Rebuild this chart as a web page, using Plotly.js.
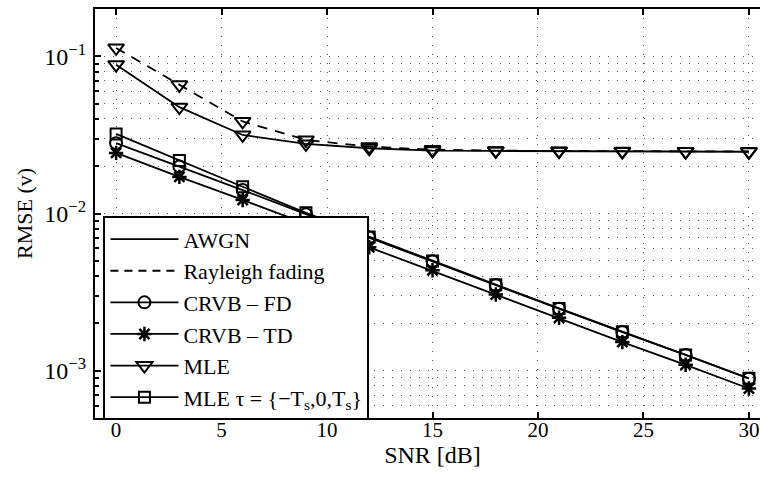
<!DOCTYPE html>
<html>
<head>
<meta charset="utf-8">
<script src="https://cdn.plot.ly/plotly-3.0.1.min.js"></script>
<style>
html,body{margin:0;padding:0;overflow:hidden;background:#fff;}
#chart{width:780px;height:478px;}
</style>
</head>
<body>
<div id="chart"></div>
<script>
// SNR in dB
const snr = [0, 3, 6, 9, 12, 15, 18, 21, 24, 27, 30];
// RMSE values
const mleAwgn      = [0.0885, 0.0475, 0.0316, 0.0277, 0.0260, 0.0251, 0.0250, 0.0249, 0.0248, 0.0248, 0.0247];
const mleRayleigh  = [0.113, 0.0659, 0.0385, 0.0294, 0.0266, 0.0255, 0.0251, 0.0250, 0.0249, 0.0248, 0.0248];
const crvbFd       = [0.0280, 0.0199, 0.0141, 0.00990, 0.00703, 0.00496, 0.00350, 0.00248, 0.00176, 0.00126, 0.000890];
const crvbTd       = [0.0243, 0.0171, 0.0122, 0.00862, 0.00610, 0.00435, 0.00305, 0.00217, 0.00152, 0.00109, 0.000770];
const mleTau       = [0.0321, 0.0217, 0.0148, 0.0101, 0.00710, 0.00498, 0.00352, 0.00249, 0.00177, 0.00126, 0.000895];

const xTicks = [0, 5, 10, 15, 20, 25, 30];
const yTicks = [0.001, 0.01, 0.1];
const yTickText = ['10<sup>\u22123</sup>', '10<sup>\u22122</sup>', '10<sup>\u22121</sup>'];
const yMinor = [0.0006, 0.0007, 0.0008, 0.0009,
  0.002, 0.003, 0.004, 0.005, 0.006, 0.007, 0.008, 0.009,
  0.02, 0.03, 0.04, 0.05, 0.06, 0.07, 0.08, 0.09, 0.2];

const legendNames = ['AWGN', 'Rayleigh fading', 'CRVB \u2013 FD', 'CRVB \u2013 TD', 'MLE',
  'MLE \u03c4 = {\u2212T<sub>s</sub>,0,T<sub>s</sub>}'];

const K = '#000';
const LW = 1.8;

const traces = [
  {x: [null], y: [null], mode: 'lines', name: legendNames[0], line: {color: K, width: LW}},
  {x: [null], y: [null], mode: 'lines', name: legendNames[1], line: {color: K, width: LW, dash: '8px,6px'}},
  {x: snr, y: crvbFd, mode: 'lines+markers', name: legendNames[2],
   line: {color: K, width: LW}, marker: {symbol: 'circle-open', size: 12, color: K, line: {width: 2, color: K}}},
  {x: snr, y: crvbTd, mode: 'lines+markers', name: legendNames[3],
   line: {color: K, width: LW}, marker: {symbol: 'asterisk-open', size: 12, color: K, line: {width: 2.5, color: K}}},
  {x: snr, y: mleAwgn, mode: 'lines+markers', name: legendNames[4],
   line: {color: K, width: LW}, marker: {symbol: 'triangle-down-open', size: 14, color: K, line: {width: 2, color: K}}},
  {x: snr, y: mleTau, mode: 'lines+markers', name: legendNames[5],
   line: {color: K, width: LW}, marker: {symbol: 'square-open', size: 11, color: K, line: {width: 2, color: K}}},
  {x: snr, y: mleRayleigh, mode: 'lines+markers', name: 'MLE Rayleigh', showlegend: false,
   line: {color: K, width: LW, dash: '10px,8px'}, marker: {symbol: 'triangle-down-open', size: 14, color: K, line: {width: 2, color: K}}}
];

const FAM = 'Liberation Serif, Times New Roman, serif';
const font = (s) => ({family: FAM, size: s, color: K});

const layout = {
  width: 780, height: 478,
  margin: {l: 95, r: 10, t: 9, b: 60},
  paper_bgcolor: '#fff', plot_bgcolor: '#fff',
  font: font(20),
  showlegend: true,
  legend: {
    x: 0.0125, y: 0.493, xanchor: 'left', yanchor: 'top',
    bgcolor: '#fff', bordercolor: K, borderwidth: 2,
    font: font(22), tracegroupgap: 0, itemwidth: 68
  },
  xaxis: {
    range: [-1, 31], tickvals: xTicks, ticktext: xTicks.map(String),
    ticks: 'inside', ticklen: 6, tickwidth: 2, tickcolor: K,
    showline: true, linecolor: K, linewidth: 2, mirror: 'ticks',
    showgrid: true, gridcolor: '#555', gridwidth: 1, griddash: '1px,8px',
    zeroline: false, tickfont: font(21), ticklabelstandoff: -8,
    title: {text: 'SNR [dB]', font: font(24), standoff: 0}
  },
  yaxis: {
    type: 'log', range: [Math.log10(0.0005), Math.log10(0.2)],
    tickvals: yTicks, ticktext: yTickText,
    ticks: 'inside', ticklen: 6, tickwidth: 2, tickcolor: K,
    showline: true, linecolor: K, linewidth: 2, mirror: 'ticks',
    showgrid: true, gridcolor: '#555', gridwidth: 1, griddash: '1px,8px',
    zeroline: false, tickfont: font(24), ticklabelstandoff: 2,
    minor: {tickvals: yMinor, ticks: 'inside', ticklen: 4, tickwidth: 2, tickcolor: K,
            showgrid: true, gridcolor: '#555', gridwidth: 1, griddash: '1px,8px'},
    title: {text: 'RMSE (v)', font: font(22), standoff: 6}
  }
};

Plotly.newPlot('chart', traces, layout, {displayModeBar: false, staticPlot: true});
</script>
</body>
</html>
